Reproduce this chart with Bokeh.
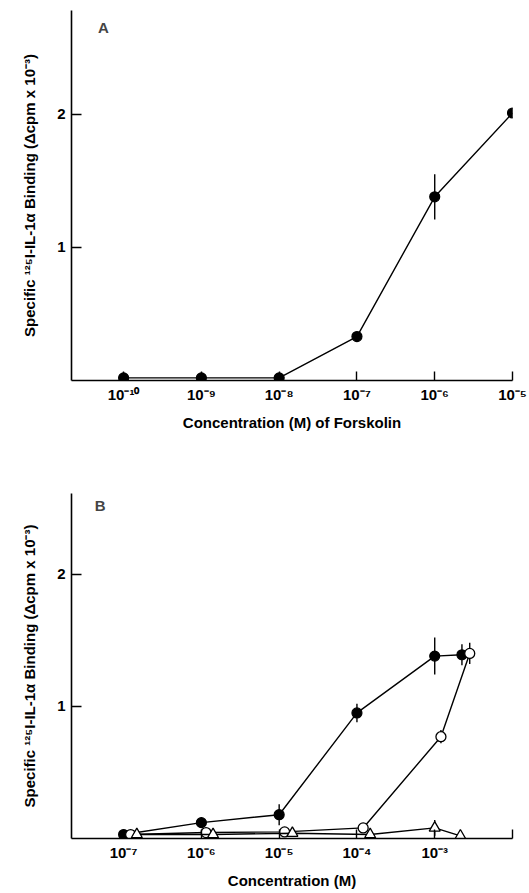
from bokeh.plotting import figure
from bokeh.layouts import column
from bokeh.models import FixedTicker, Label
from bokeh.embed import file_html
from bokeh.resources import INLINE

# ---- Panel A: forskolin (x = log10 concentration, M) ----
a_logconc = [-10, -9, -8, -7, -6, -5]
a_binding = [0.02, 0.02, 0.02, 0.33, 1.38, 2.01]
a_err = [0.0, 0.0, 0.0, 0.03, 0.17, 0.04]
a_ticks = [-10, -9, -8, -7, -6, -5]
a_tick_labels = ["10⁻¹⁰", "10⁻⁹", "10⁻⁸", "10⁻⁷", "10⁻⁶", "10⁻⁵"]

# ---- Panel B: three compounds ----
b_filled_x = [-7.0, -6.0, -5.0, -4.0, -3.0, -2.65]
b_filled_y = [0.03, 0.12, 0.18, 0.95, 1.38, 1.39]
b_filled_err = [0.0, 0.04, 0.08, 0.07, 0.14, 0.08]

b_open_x = [-6.91, -5.94, -4.93, -3.92, -2.92, -2.55]
b_open_y = [0.03, 0.045, 0.05, 0.08, 0.77, 1.40]
b_open_err = [0.0, 0.0, 0.0, 0.0, 0.05, 0.08]

b_tri_x = [-6.83, -5.85, -4.83, -3.83, -3.0, -2.67]
b_tri_y = [0.03, 0.03, 0.04, 0.03, 0.08, 0.02]
b_tri_err = [0.0, 0.0, 0.0, 0.0, 0.06, 0.0]

b_ticks = [-7, -6, -5, -4, -3, -2]
b_tick_labels = ["10⁻⁷", "10⁻⁶", "10⁻⁵", "10⁻⁴", "10⁻³", ""]

y_ticks = [1, 2]
y_label = "Specific ¹²⁵I-IL-1α Binding (Δcpm x 10⁻³)"

FONT = "Liberation Sans"


def style(p, xticks, xlabels, xlabel):
    p.grid.visible = False
    p.outline_line_color = None
    p.background_fill_color = "white"
    p.border_fill_color = "white"
    for ax in (p.xaxis[0], p.yaxis[0]):
        ax.axis_line_width = 1.6
        ax.axis_line_color = "black"
        ax.major_tick_line_width = 1.4
        ax.major_tick_line_color = "black"
        ax.major_tick_out = 0
        ax.minor_tick_line_color = None
        ax.major_label_text_font = FONT
        ax.major_label_text_font_size = "15px"
        ax.major_label_text_color = "black"
        ax.major_label_text_font_style = "bold"
        ax.axis_label_text_font = FONT
        ax.axis_label_text_font_size = "15px"
        ax.axis_label_text_font_style = "bold"
        ax.axis_label_text_color = "black"
    p.xaxis.ticker = FixedTicker(ticks=xticks)
    p.xaxis.major_label_overrides = {t: l for t, l in zip(xticks, xlabels)}
    p.xaxis.major_tick_in = 9
    p.xaxis.major_label_standoff = 5
    p.xaxis.axis_label = xlabel
    p.xaxis.axis_label_standoff = 8
    p.yaxis.ticker = FixedTicker(ticks=y_ticks)
    p.yaxis.major_tick_in = 10
    p.yaxis.major_label_standoff = 6
    p.yaxis.major_label_orientation = "horizontal"
    p.yaxis.axis_label = y_label
    p.yaxis.axis_label_standoff = 16


def series(p, xs, ys, errs, kind):
    p.line(xs, ys, line_color="black", line_width=1.4)
    p.segment(x0=xs, y0=[y - e for y, e in zip(ys, errs)],
              x1=xs, y1=[y + e for y, e in zip(ys, errs)],
              line_color="black", line_width=1.4)
    if kind == "filled":
        p.scatter(xs, ys, marker="circle", size=10, fill_color="black",
                  line_color="black", line_width=1.2)
    elif kind == "open":
        p.scatter(xs, ys, marker="circle", size=10, fill_color="white",
                  line_color="black", line_width=1.3)
    else:
        p.scatter(xs, ys, marker="triangle", size=11, fill_color="white",
                  line_color="black", line_width=1.3)


# Panel A figure
pa = figure(width=529, height=446, x_range=(-10.67, -5.0), y_range=(0, 2.78),
            output_backend="svg", toolbar_location=None,
            min_border_left=71, min_border_right=17,
            min_border_top=10, min_border_bottom=66)
style(pa, a_ticks, a_tick_labels, "Concentration (M) of Forskolin")
series(pa, a_logconc, a_binding, a_err, "filled")
pa.add_layout(Label(x=-10.26, y=2.65, text="A", text_font=FONT,
                    text_font_style="bold", text_font_size="15px",
                    text_align="center", text_baseline="middle"))

# Panel B figure
pb = figure(width=529, height=447, x_range=(-7.67, -2.0), y_range=(0, 2.61),
            output_backend="svg", toolbar_location=None,
            min_border_left=71, min_border_right=17,
            min_border_top=47, min_border_bottom=55)
style(pb, b_ticks, b_tick_labels, "Concentration (M)")
series(pb, b_filled_x, b_filled_y, b_filled_err, "filled")
series(pb, b_open_x, b_open_y, b_open_err, "open")
series(pb, b_tri_x, b_tri_y, b_tri_err, "tri")
pb.add_layout(Label(x=-7.30, y=2.52, text="B", text_font=FONT,
                    text_font_style="bold", text_font_size="15px",
                    text_align="center", text_baseline="middle"))

layout = column(pa, pb, spacing=0)
open("out.html", "w").write(file_html(layout, INLINE))
